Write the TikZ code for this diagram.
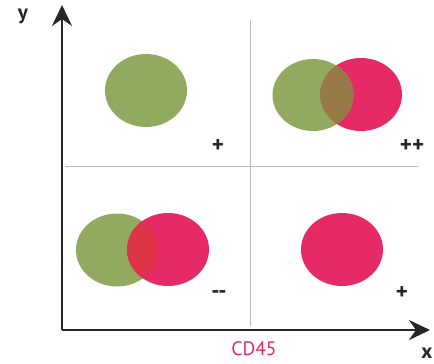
\documentclass[tikz,border=0pt]{standalone}
\usepackage{fontspec}
\setmainfont{PT Sans}
\usetikzlibrary{arrows.meta}
\definecolor{cgreen}{RGB}{146,170,96}
\definecolor{cred}{RGB}{230,42,102}
\definecolor{mixtr}{RGB}{152,122,72}
\definecolor{mixbl}{RGB}{222,52,72}
\definecolor{axisc}{RGB}{38,38,38}
\begin{document}
\begin{tikzpicture}[x=1pt,y=-1pt,
  axis/.style={line width=2.8pt, draw=axisc, -{Stealth[length=21pt,width=20pt,inset=7pt]}},
  gridline/.style={draw=gray!55, line width=0.5pt},
  sign/.style={font=\bfseries\fontsize{23}{23}\selectfont, text=axisc, inner sep=0pt},
  axlabel/.style={font=\bfseries\fontsize{21}{21}\selectfont, text=axisc, inner sep=0pt}]
\useasboundingbox (0,0) rectangle (434,364);
\fill[white] (0,0) rectangle (434,364);
% grid
\coordinate (gt) at (250,20);
\coordinate (gb) at (250,326);
\coordinate (gl) at (65,166);
\coordinate (gr) at (418,166);
\draw[gridline] (gt) -- (gb);
\draw[gridline] (gl) -- (gr);
% circles
\fill[cgreen] (146,90.5) ellipse [x radius=41, y radius=36.5];
% top right
\fill[cred] (361,94.5) ellipse [x radius=41, y radius=36.5];
\fill[cgreen] (313,95) ellipse [x radius=40.5, y radius=36];
\begin{scope}
  \clip (361,94.5) ellipse [x radius=41, y radius=36.5];
  \fill[mixtr] (313,95) ellipse [x radius=40.5, y radius=36];
\end{scope}
% bottom left
\fill[cgreen] (117,250) ellipse [x radius=41, y radius=36.5];
\fill[cred] (168,249.5) ellipse [x radius=41, y radius=36.5];
\begin{scope}
  \clip (117,250) ellipse [x radius=41, y radius=36.5];
  \fill[mixbl] (168,249.5) ellipse [x radius=41, y radius=36.5];
\end{scope}
% bottom right
\fill[cred] (342,249.5) ellipse [x radius=41, y radius=36.5];
% axes
\coordinate (O) at (62,330);
\coordinate (ytip) at (62,5);
\coordinate (xtip) at (430,330);
\draw[axis] (O) -- (ytip);
\draw[axis] (O) -- (xtip);
% labels
\node[axlabel] (ylab) at (23,16) {y};
\node[axlabel] (xlab) at (427,353) {x};
\node[sign] (s1) at (218,146) {+};
\node[sign] (s2) at (412,146) {++};
\node[sign] (s3) at (219,295) {{-}{-}};
\node[sign] (s4) at (402,293) {+};
\node[font=\fontsize{19.5}{19.5}\selectfont, text=cred, inner sep=0pt] (cd) at (254,349) {CD45};
\end{tikzpicture}
\end{document}
